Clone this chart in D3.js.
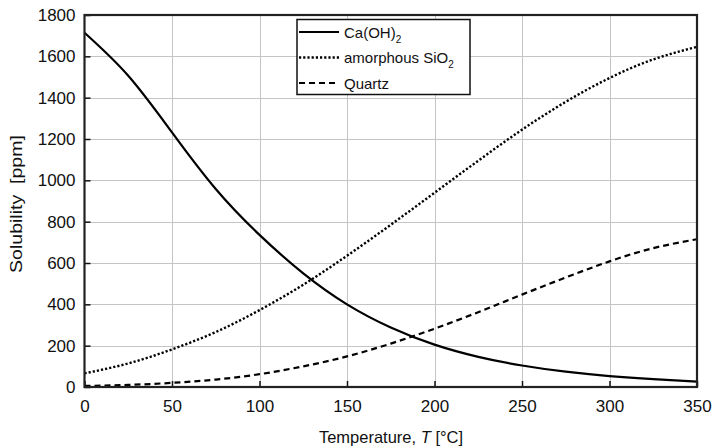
<!DOCTYPE html>
<html>
<head>
  <meta charset="utf-8" />
  <title>Solubility</title>
  <script src="https://cdn.jsdelivr.net/npm/d3@7"></script>
  <style>
    body { margin: 0; background: #fff; }
    svg { font-family: "Liberation Sans", Arial, sans-serif; }
  </style>
</head>
<body>
  <svg id="chart" width="715" height="448"></svg>
  <script>
    // values
    var temps = [0, 25, 50, 75, 100, 125, 150, 175, 200, 225, 250, 275, 300, 325, 350]
    var caoh2 = [1714, 1506, 1232, 958, 736, 550, 400, 288, 205, 146, 104, 74, 53, 38, 26]
    var sio2Amorph = [66, 114, 182, 266, 372, 495, 635, 785, 940, 1095, 1245, 1380, 1495, 1585, 1646]
    var quartz = [5, 10, 20, 36, 62, 100, 148, 210, 282, 362, 447, 530, 608, 672, 715]
    var xTicks = [0, 50, 100, 150, 200, 250, 300, 350]
    var yTicks = [0, 200, 400, 600, 800, 1000, 1200, 1400, 1600, 1800]

    var series = [
      { name: 'Ca(OH)', sub: '2', vals: caoh2, dash: null, width: 2.2 },
      { name: 'amorphous SiO', sub: '2', vals: sio2Amorph, dash: '2.2,2', width: 2.4 },
      { name: 'Quartz', sub: '', vals: quartz, dash: '6,4', width: 2.2 }
    ]

    draw()

    function draw() {
      // note: "top" is taken by window.top, so plot edges get their own names
      var pL = 84.5, pR = 697, pT = 15, pB = 387
      var svg = d3.select('#chart')

      var x = d3.scaleLinear().domain([0, 350]).range([pL, pR])
      var y = d3.scaleLinear().domain([0, 1800]).range([pB, pT])

      // grid
      var grid = svg.append('g').attr('stroke', '#c4c4c4').attr('stroke-width', 1)
      grid.selectAll('.gx').data(xTicks.slice(1, -1)).enter().append('line')
        .attr('x1', d => Math.round(x(d)) + 0.5).attr('x2', d => Math.round(x(d)) + 0.5)
        .attr('y1', pT).attr('y2', pB)
      grid.selectAll('.gy').data(yTicks.slice(1, -1)).enter().append('line')
        .attr('y1', d => Math.round(y(d)) + 0.5).attr('y2', d => Math.round(y(d)) + 0.5)
        .attr('x1', pL).attr('x2', pR)

      // axes with inward ticks
      var xAxis = svg.append('g').attr('transform', 'translate(0,' + pB + ')')
        .call(d3.axisBottom(x).tickValues(xTicks).tickSizeInner(-6).tickSizeOuter(0).tickPadding(9))
      var yAxis = svg.append('g').attr('transform', 'translate(' + pL + ',0)')
        .call(d3.axisLeft(y).tickValues(yTicks).tickFormat(d3.format('d')).tickSizeInner(-6).tickSizeOuter(0).tickPadding(9))
      ;[xAxis, yAxis].forEach(function (a) {
        a.select('.domain').remove()
        a.selectAll('line').attr('stroke', '#111').attr('stroke-width', 1.5)
        a.selectAll('text').attr('font-size', 17).attr('fill', '#111')
          .style('font-family', '"Liberation Sans", Arial, sans-serif')
      })
      xAxis.selectAll('text').attr('dy', '0.95em')

      // curves
      var line = d3.line()
        .x(function (d, i) { return x(temps[i]) })
        .y(function (d) { return y(d) })
        .curve(d3.curveNatural)

      svg.selectAll('.curve').data(series).enter().append('path')
        .attr('class', 'curve')
        .attr('d', function (s) { return line(s.vals) })
        .attr('fill', 'none')
        .attr('stroke', '#000')
        .attr('stroke-width', function (s) { return s.width })
        .attr('stroke-dasharray', function (s) { return s.dash })

      // frame
      svg.append('rect')
        .attr('x', pL).attr('y', pT)
        .attr('width', pR - pL).attr('height', pB - pT)
        .attr('fill', 'none').attr('stroke', '#222').attr('stroke-width', 2.2)

      // legend
      var lg = svg.append('g')
      lg.append('rect').attr('x', 297).attr('y', 19.5).attr('width', 173).attr('height', 75)
        .attr('fill', '#fff').attr('stroke', '#111').attr('stroke-width', 1.5)
      var items = lg.selectAll('.item').data(series).enter().append('g')
        .attr('transform', function (d, i) { return 'translate(0,' + (32 + i * 25.5) + ')' })
      items.append('line').attr('x1', 299).attr('x2', 339).attr('y1', 0).attr('y2', 0)
        .attr('stroke', '#000').attr('stroke-width', function (s) { return s.width })
        .attr('stroke-dasharray', function (s) { return s.dash })
      var lt = items.append('text').attr('x', 344).attr('y', 5.5).attr('font-size', 15).attr('fill', '#111')
      lt.append('tspan').text(function (s) { return s.name })
      lt.append('tspan').attr('font-size', 10).attr('dy', 5).text(function (s) { return s.sub })

      // axis titles
      var xt = svg.append('text').attr('x', 391).attr('y', 443).attr('text-anchor', 'middle')
        .attr('font-size', 16.5).attr('fill', '#111')
      xt.append('tspan').text('Temperature, ')
      xt.append('tspan').attr('font-style', 'italic').text('T')
      xt.append('tspan').text(' [°C]')

      svg.append('text').attr('transform', 'translate(22,204) rotate(-90) scale(1.15,1)')
        .attr('text-anchor', 'middle').attr('font-size', 17).attr('fill', '#111')
        .style('white-space', 'pre').text('Solubility  [ppm]')
    }
  </script>
</body>
</html>
